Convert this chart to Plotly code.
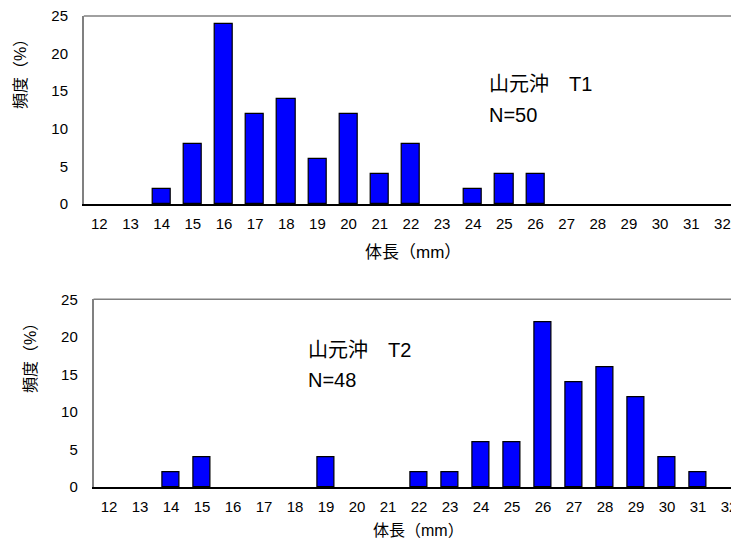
import plotly.graph_objects as go

lengths = list(range(12, 33))
t1_freq = [0, 0, 2, 8, 24, 12, 14, 6, 12, 4, 8, 0, 2, 4, 4, 0, 0, 0, 0, 0, 0]
t2_freq = [0, 0, 2, 4, 0, 0, 0, 4, 0, 0, 2, 2, 6, 6, 22, 14, 16, 12, 4, 2, 0]
y_ticks = [0, 5, 10, 15, 20, 25]
x_title = "体長（mm）"
y_title = "頻度（%）"
label_t1 = ["山元沖　T1", "N=50"]
label_t2 = ["山元沖　T2", "N=48"]

FONT = "Liberation Sans, Arial, Noto Sans CJK JP, sans-serif"
W, H = 731, 545

def bar(vals, xa, ya):
    return go.Bar(x=lengths, y=vals, width=0.58,
                  marker=dict(color="#0000FF",
                              line=dict(color="black", width=[1.2 if v > 0 else 0 for v in vals])),
                  xaxis=xa, yaxis=ya, showlegend=False, hoverinfo="x+y")

fig = go.Figure()
fig.add_trace(bar(t1_freq, "x", "y"))
fig.add_trace(bar(t2_freq, "x2", "y2"))

def xaxis(domain, rng, anchor):
    return dict(domain=domain, range=rng, tickmode="array", tickvals=lengths, ticktext=[str(v) for v in lengths],
                showline=True, linecolor="black", linewidth=1.5, ticks="", showgrid=False, zeroline=False,
                automargin=False, anchor=anchor, ticklabeloverflow="allow",
                tickfont=dict(size=15, color="black", family=FONT), ticklabelstandoff=5)

def yaxis(domain, anchor):
    return dict(domain=domain, range=[0, 25], tickvals=y_ticks, showline=True, linecolor="#808080", linewidth=1.5,
                ticks="", showgrid=False, zeroline=False, automargin=False, anchor=anchor,
                tickfont=dict(size=15, color="black", family=FONT), ticklabelstandoff=11)

top_left = 83.8
bot_left = 93.5
fig.update_layout(
    width=W, height=H, margin=dict(l=0, r=0, t=0, b=0, autoexpand=False),
    paper_bgcolor="white", plot_bgcolor="white", bargap=0,
    xaxis=xaxis([top_left / W, 1], [11.5, 11.5 + (W - top_left) / 31.15], "y"),
    yaxis=yaxis([1 - 204 / H, 1 - 16 / H], "x"),
    xaxis2=xaxis([bot_left / W, 1], [11.5, 11.5 + (W - bot_left) / 31.0], "y2"),
    yaxis2=yaxis([1 - 487 / H, 1 - 299.3 / H], "x2"),
    font=dict(family=FONT, color="black"),
)

# top border lines of each panel
for xr, yr in (("x domain", "y domain"), ("x2 domain", "y2 domain")):
    fig.add_shape(type="line", xref=xr, yref=yr, x0=0, x1=1, y0=1, y1=1,
                  line=dict(color="#808080", width=1.5))

def px(x, y):
    return dict(xref="paper", yref="paper", x=x / W, y=1 - y / H)

ann = []
ann.append(dict(text=x_title, **px(413, 252), showarrow=False, font=dict(size=17), xanchor="center", yanchor="middle"))
ann.append(dict(text=x_title, **px(418, 530), showarrow=False, font=dict(size=16), xanchor="center", yanchor="middle"))
ann.append(dict(text=y_title, **px(20, 70), showarrow=False, font=dict(size=16), textangle=-90, xanchor="center", yanchor="middle"))
ann.append(dict(text=y_title, **px(30, 354), showarrow=False, font=dict(size=16), textangle=-90, xanchor="center", yanchor="middle"))
ann.append(dict(text=label_t1[0], **px(487, 84), showarrow=False, font=dict(size=20), xanchor="left", yanchor="middle"))
ann.append(dict(text=label_t1[1], **px(487, 115), showarrow=False, font=dict(size=20), xanchor="left", yanchor="middle"))
ann.append(dict(text=label_t2[0], **px(306, 350), showarrow=False, font=dict(size=20), xanchor="left", yanchor="middle"))
ann.append(dict(text=label_t2[1], **px(306, 380), showarrow=False, font=dict(size=20), xanchor="left", yanchor="middle"))
fig.update_layout(annotations=ann)

fig.write_html("out.html", config={"displayModeBar": False},
               post_script="document.body.style.margin='0';document.body.style.overflow='hidden';")
